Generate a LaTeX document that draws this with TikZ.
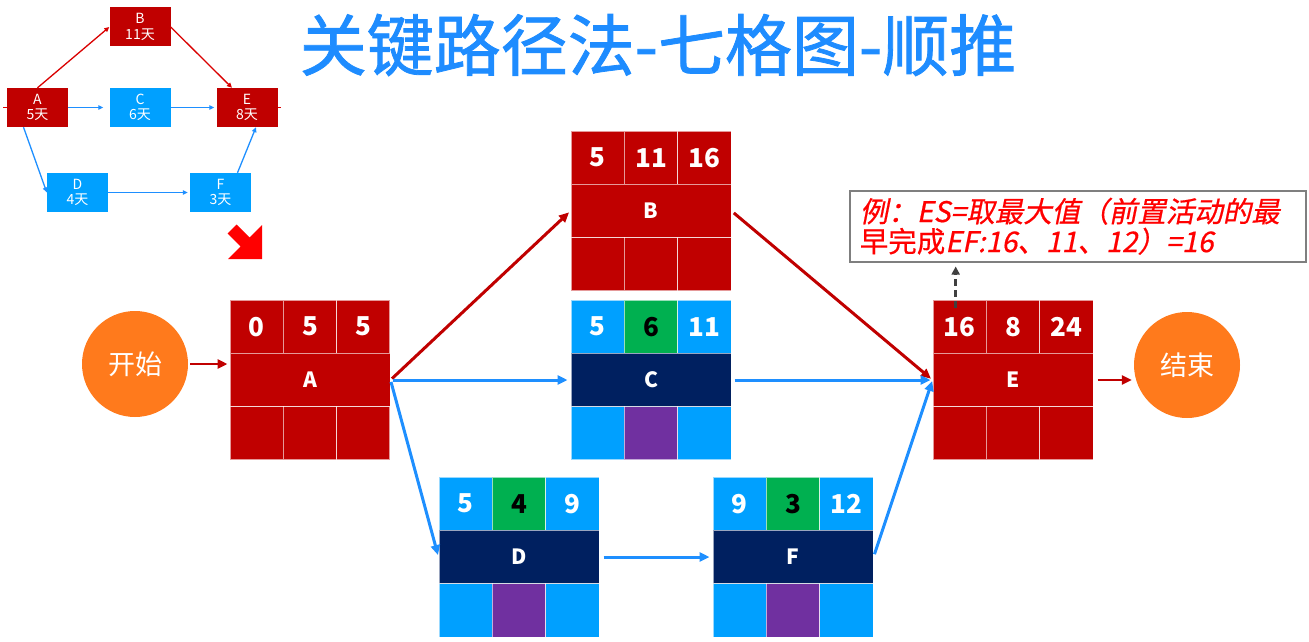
\documentclass[tikz,border=0pt]{standalone}
\usepackage{fontspec}
\newfontfamily\cjk{Noto Sans CJK SC}
\newfontfamily\cjktitle[FakeBold=1.2]{Noto Sans CJK SC}
\newfontfamily\cjknote[FakeBold=0.6]{Noto Sans CJK SC}
\newfontfamily\cjkit[FakeSlant=0.2,FakeBold=0.6]{Noto Sans CJK SC}
\usetikzlibrary{arrows.meta}
\definecolor{dred}{HTML}{C00000}
\definecolor{lblue}{HTML}{00A0FF}
\definecolor{navy}{HTML}{002060}
\definecolor{grn}{HTML}{00B050}
\definecolor{purp}{HTML}{7030A0}
\definecolor{orng}{HTML}{FF7A1C}
\definecolor{arblue}{HTML}{1E8FFF}
\definecolor{ttl}{HTML}{1E8CFF}
\definecolor{notegray}{HTML}{7F7F7F}
\tikzset{
  cellbox/.style={rectangle, inner sep=0pt, minimum width=53.33pt, minimum height=53.33pt,
    draw=white, draw opacity=0.6, line width=1pt, text=white,
    font=\cjk\bfseries\fontsize{26}{26}\selectfont},
  midbox/.style={cellbox, minimum width=160pt, font=\cjk\bfseries\fontsize{21}{21}\selectfont},
  circ/.style={circle, fill=orng, minimum size=106pt, inner sep=0pt, text=white,
    font=\cjk\fontsize{27}{27}\selectfont},
  redarrow/.style={draw=dred, line width=3pt, -{Triangle[length=10pt,width=9pt]}},
  bluearrow/.style={draw=arblue, line width=3pt, -{Triangle[length=10pt,width=9pt]}},
  dasharrow/.style={draw=black!75, line width=2.5pt, dash pattern=on 7pt off 4pt,
    -{Triangle[length=8pt,width=8pt]}},
  notebox/.style={rectangle, draw=notegray, line width=1.5pt, inner xsep=10pt, inner ysep=3pt,
    text width=436pt, minimum height=71pt, align=left, text=red,
    font=\fontsize{28.5}{30}\selectfont},
  smallbox/.style={rectangle, minimum width=61pt, minimum height=39pt, inner sep=0pt,
    text=white, align=center, font=\cjk\fontsize{14}{15.5}\selectfont},
  sred/.style={draw=red!85!black, line width=1.3pt, -{Triangle[length=5pt,width=4.5pt]}},
  sblue/.style={draw=arblue, line width=1.3pt, -{Triangle[length=5pt,width=4.5pt]}},
}
% #1 name/letter, #2 position of top-left corner, #3 side colour, #4 top-middle colour,
% #5 middle colour, #6 bottom-middle colour, #7 ES, #8 duration, #9 EF
\newcommand\SevenGrid[9]{%
  \begin{scope}[shift={#2}]
    \node[cellbox, fill=#3] (#1-1) at (26.67,26.67) {#7};
    \node[cellbox, fill=#4] (#1-2) at (80,26.67) {#8};
    \node[cellbox, fill=#3] (#1-3) at (133.33,26.67) {#9};
    \node[midbox, fill=#5] (#1) at (80,80) {#1};
    \node[cellbox, fill=#3] (#1-4) at (26.67,133.33) {};
    \node[cellbox, fill=#6] (#1-5) at (80,133.33) {};
    \node[cellbox, fill=#3] (#1-6) at (133.33,133.33) {};
  \end{scope}}
\begin{document}
\begin{tikzpicture}[x=1pt,y=-1pt]
\useasboundingbox (0,0) rectangle (1309,642);

% title
\node[text=ttl, font=\cjktitle\fontsize{67}{67}\selectfont] (title) at (658,45) {关键路径法-七格图-顺推};

% small overview diagram
\node[smallbox, fill=dred] (sA) at (37.5,107.5) {A\\5天};
\node[smallbox, fill=dred] (sB) at (140,27) {B\\11天};
\node[smallbox, fill=lblue] (sC) at (140,107.5) {C\\6天};
\node[smallbox, fill=dred] (sE) at (247,107.5) {E\\8天};
\node[smallbox, fill=lblue] (sD) at (77.5,192.5) {D\\4天};
\node[smallbox, fill=lblue] (sF) at (220.5,192.5) {F\\3天};
\draw[sred] (sA.north) -- (sB.west);
\draw[sred] (sB.east) -- ([xshift=-15pt]sE.north);
\draw[sblue, shorten >=6pt] (sA.east) -- (sC.west);
\draw[sblue, shorten >=2pt] (sC.east) -- (sE.west);
\draw[sblue] ([xshift=-14pt]sA.south) -- (sD.west);
\draw[sblue, shorten >=2pt] (sD.east) -- (sF.west);
\draw[sblue] ([xshift=17pt]sF.north) -- ([xshift=9pt]sE.south);
\draw[draw=red!85!black, line width=1.3pt] (sA.west) -- ++(-4,0);
\draw[draw=red!85!black, line width=1.3pt] (sE.east) -- ++(3,0);

% big red pointer
\fill[red] (236.5,224.5) -- (249.5,237.5) -- (262,225) -- (262,259) -- (228,259)
  -- (240.5,246.5) -- (227.5,233.5) -- cycle;

% seven-grid boxes
\SevenGrid{A}{(230,300)}{dred}{dred}{dred}{dred}{0}{5}{5}
\SevenGrid{B}{(571,131)}{dred}{dred}{dred}{dred}{5}{11}{16}
\SevenGrid{C}{(571,300)}{lblue}{grn}{navy}{purp}{5}{\color{black}6}{11}
\SevenGrid{D}{(439,477)}{lblue}{grn}{navy}{purp}{5}{\color{black}4}{9}
\SevenGrid{E}{(933,300)}{dred}{dred}{dred}{dred}{16}{8}{24}
\SevenGrid{F}{(713,477)}{lblue}{grn}{navy}{purp}{9}{\color{black}3}{12}

% start / end
\node[circ] (start) at (135,364) {开始};
\node[circ] (end) at (1187,365) {结束};

% connectors
\draw[redarrow, line width=2.5pt, shorten <=2pt, shorten >=2pt] (start.east) -- (start.east -| A.west);
\draw[redarrow, shorten <=2pt, shorten >=2pt] (A.east) -- (B.west);
\draw[bluearrow, shorten <=2pt, shorten >=3pt] (A.east) -- (C.west);
\draw[bluearrow, shorten <=2pt, shorten >=2pt] (A.east) -- (D.west);
\draw[redarrow, shorten <=3pt, shorten >=2pt] (B.east) -- (E.west);
\draw[bluearrow, shorten <=3pt, shorten >=2pt] (C.east) -- (E.west);
\draw[bluearrow, shorten <=4pt, shorten >=3pt] (D.east) -- (F.west);
\draw[bluearrow, shorten <=3pt, shorten >=1pt] (F.east) -- (E.west);
\draw[redarrow, line width=2.5pt, shorten <=4pt, shorten >=2pt] (E.east) -- (E.east -| end.west);

% note
\node[notebox, anchor=north west] (note) at (849,190)
  {{\cjkit 例：ES=取最大值（前置活动的最}\\{\cjknote 早完成}{\cjkit EF:16、11、12）=16}};
\draw[dasharrow, shorten >=4pt] ([xshift=-4pt,yshift=-8pt]E-1.north) -- ([xshift=-4pt]E-1.north |- note.south);
\end{tikzpicture}
\end{document}
